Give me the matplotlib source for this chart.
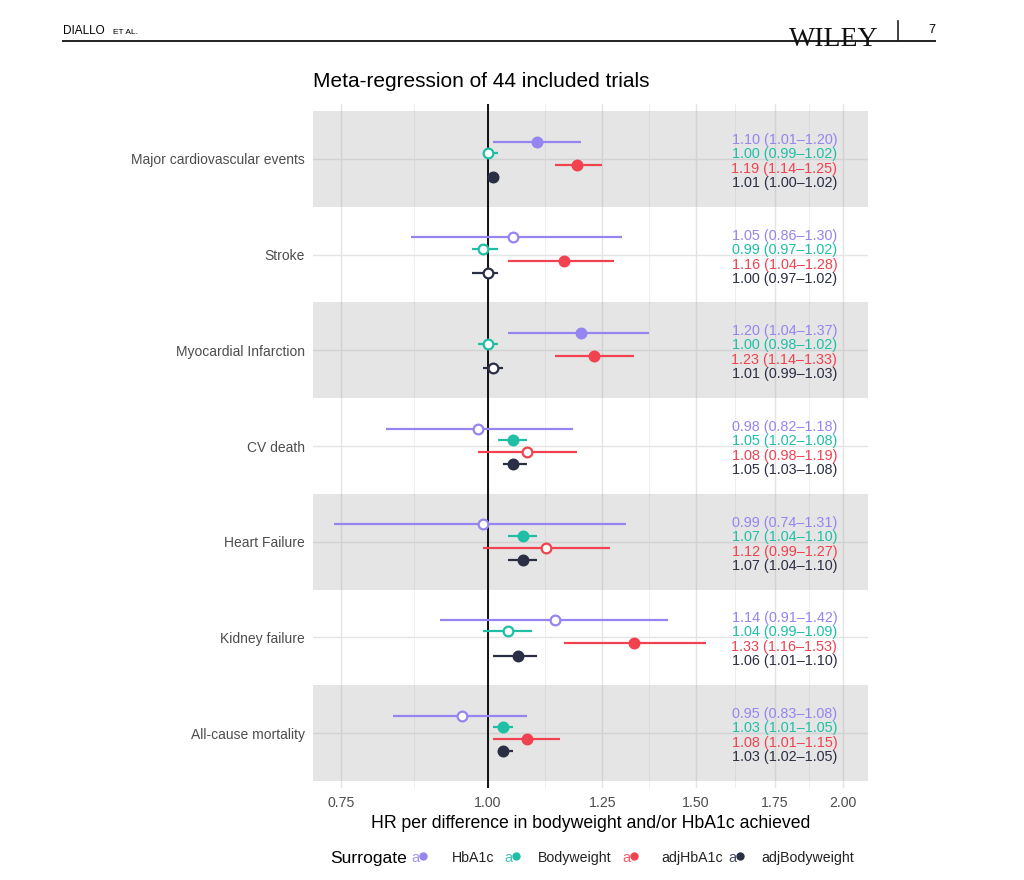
import numpy as np
import matplotlib
matplotlib.use('Agg')
from matplotlib import pyplot as plt
from matplotlib.lines import Line2D
from matplotlib.ticker import FixedLocator, NullFormatter

plt.rcParams['font.family'] = ['Liberation Sans', 'DejaVu Sans']

# outcomes, top to bottom
outcomes = ['Major cardiovascular events', 'Stroke', 'Myocardial Infarction',
            'CV death', 'Heart Failure', 'Kidney failure', 'All-cause mortality']
series = ['HbA1c', 'Bodyweight', 'adjHbA1c', 'adjBodyweight']
colors = ['#9585f0', '#1fbfa6', '#f2424f', '#2b2f45']

# hazard ratios with 95% CI, one row per outcome, one column per surrogate
hr = [[1.10, 1.00, 1.19, 1.01],
      [1.05, 0.99, 1.16, 1.00],
      [1.20, 1.00, 1.23, 1.01],
      [0.98, 1.05, 1.08, 1.05],
      [0.99, 1.07, 1.12, 1.07],
      [1.14, 1.04, 1.33, 1.06],
      [0.95, 1.03, 1.08, 1.03]]
lo = [[1.01, 0.99, 1.14, 1.00],
      [0.86, 0.97, 1.04, 0.97],
      [1.04, 0.98, 1.14, 0.99],
      [0.82, 1.02, 0.98, 1.03],
      [0.74, 1.04, 0.99, 1.04],
      [0.91, 0.99, 1.16, 1.01],
      [0.83, 1.01, 1.01, 1.02]]
hi = [[1.20, 1.02, 1.25, 1.02],
      [1.30, 1.02, 1.28, 1.02],
      [1.37, 1.02, 1.33, 1.03],
      [1.18, 1.08, 1.19, 1.08],
      [1.31, 1.10, 1.27, 1.10],
      [1.42, 1.09, 1.53, 1.10],
      [1.08, 1.05, 1.15, 1.05]]
xticks = [0.75, 1.00, 1.25, 1.50, 1.75, 2.00]

hr = np.array(hr)
lo = np.array(lo)
hi = np.array(hi)

W, H = 1024, 880
fig = plt.figure(figsize=(W / 100, H / 100), dpi=100)
fig.patch.set_facecolor('white')

# panel (pixel box -> figure fraction)
px_l, px_r, px_t, px_b = 313, 868, 104, 788
ax = fig.add_axes([px_l / W, 1 - px_b / H, (px_r - px_l) / W, (px_b - px_t) / H])
ax.set_xscale('log')
ax.set_xlim(0.7105, 2.10)
pad = 7 / 95.7
ax.set_ylim(len(outcomes) + 0.5 + pad, 0.5 - pad)
for s in ax.spines.values():
    s.set_visible(False)
ax.set_facecolor('white')

# grid
minor = [np.sqrt(a * b) for a, b in zip(xticks[:-1], xticks[1:])]
for x in xticks:
    ax.axvline(x, color='#e4e4e4', lw=1.0, zorder=0)
for x in minor:
    ax.axvline(x, color='#eeeeee', lw=0.7, zorder=0)
ypos = np.arange(1, len(outcomes) + 1)
for y in ypos:
    ax.axhline(y, color='#e4e4e4', lw=1.0, zorder=0)

# alternating bands
for i, y in enumerate(ypos):
    if i % 2 == 0:
        ax.axhspan(y - 0.5, y + 0.5, color='#b0b0b0', alpha=0.33, lw=0, zorder=1)

ax.axvline(1.0, color='black', lw=1.3, zorder=2)

pt_off = [-0.18, -0.063, 0.063, 0.19]
tx_off = [-0.199, -0.052, 0.104, 0.25]
for j, (name, c) in enumerate(zip(series, colors)):
    for i, y in enumerate(ypos):
        yy = y + pt_off[j]
        ax.plot([lo[i, j], hi[i, j]], [yy, yy], color=c, lw=1.6, zorder=3,
                solid_capstyle='butt')
        sig = lo[i, j] >= 1.0 or hi[i, j] < 1.0
        ax.plot(hr[i, j], yy, 'o', ms=7, color=c, mfc=c if sig else 'white',
                mec=c, mew=1.6, zorder=4)
        ax.text(1.978, y + tx_off[j],
                f'{hr[i, j]:.2f} ({lo[i, j]:.2f}\u2013{hi[i, j]:.2f})',
                color=c, fontsize=10.4, ha='right', va='center', zorder=5)

ax.set_yticks(ypos)
ax.set_yticklabels(outcomes, fontsize=10.0, color='#4d4d4d')
ax.xaxis.set_major_locator(FixedLocator(xticks))
ax.xaxis.set_minor_locator(FixedLocator([]))
ax.xaxis.set_minor_formatter(NullFormatter())
ax.set_xticklabels([f'{x:.2f}' for x in xticks], fontsize=10.2, color='#4d4d4d')
ax.tick_params(axis='both', length=0, pad=6)
ax.set_xlabel('HR per difference in bodyweight and/or HbA1c achieved',
              fontsize=12.7, color='black', labelpad=3)
ax.set_title('Meta-regression of 44 included trials', fontsize=15,
             loc='left', pad=12, color='black')

# legend
fy = 1 - 858 / H
fig.text(330 / W, fy, 'Surrogate', fontsize=12.6, va='center', ha='left')
key_x = [411, 504, 622, 728]
lab_x = [452, 538, 661, 761]
for kx, lx, name, c in zip(key_x, lab_x, series, colors):
    fig.text(kx / W, fy, 'a', color=c, fontsize=10.5, va='center', ha='left',
             alpha=0.85)
    fig.add_artist(Line2D([(kx + 12) / W], [fy + 0.002], marker='o', ms=5,
                          color=c, transform=fig.transFigure))
    fig.text(lx / W, fy, name, fontsize=10.2, va='center', ha='left',
             color='#222222')

# journal header
hy = 1 - 41 / H
fig.add_artist(Line2D([63 / W, 935 / W], [hy, hy], color='#222222', lw=1.4,
                      transform=fig.transFigure))
fig.text(63 / W, 1 - 31 / H, 'DIALLO', fontsize=8.5, va='center', ha='left')
fig.text(113 / W, 1 - 32 / H, 'ET AL.', fontsize=6, va='center', ha='left')
fig.text(789 / W, 1 - 46 / H, 'WILEY', family='Liberation Serif', fontsize=20,
         va='baseline', ha='left', color='#111111')
fig.add_artist(Line2D([898 / W, 898 / W], [1 - 21 / H, hy], color='#222222',
                      lw=1.2, transform=fig.transFigure))
fig.text(932 / W, 1 - 30 / H, '7', fontsize=9, va='center', ha='center')

fig.savefig('out.png', dpi=100, facecolor='white')
